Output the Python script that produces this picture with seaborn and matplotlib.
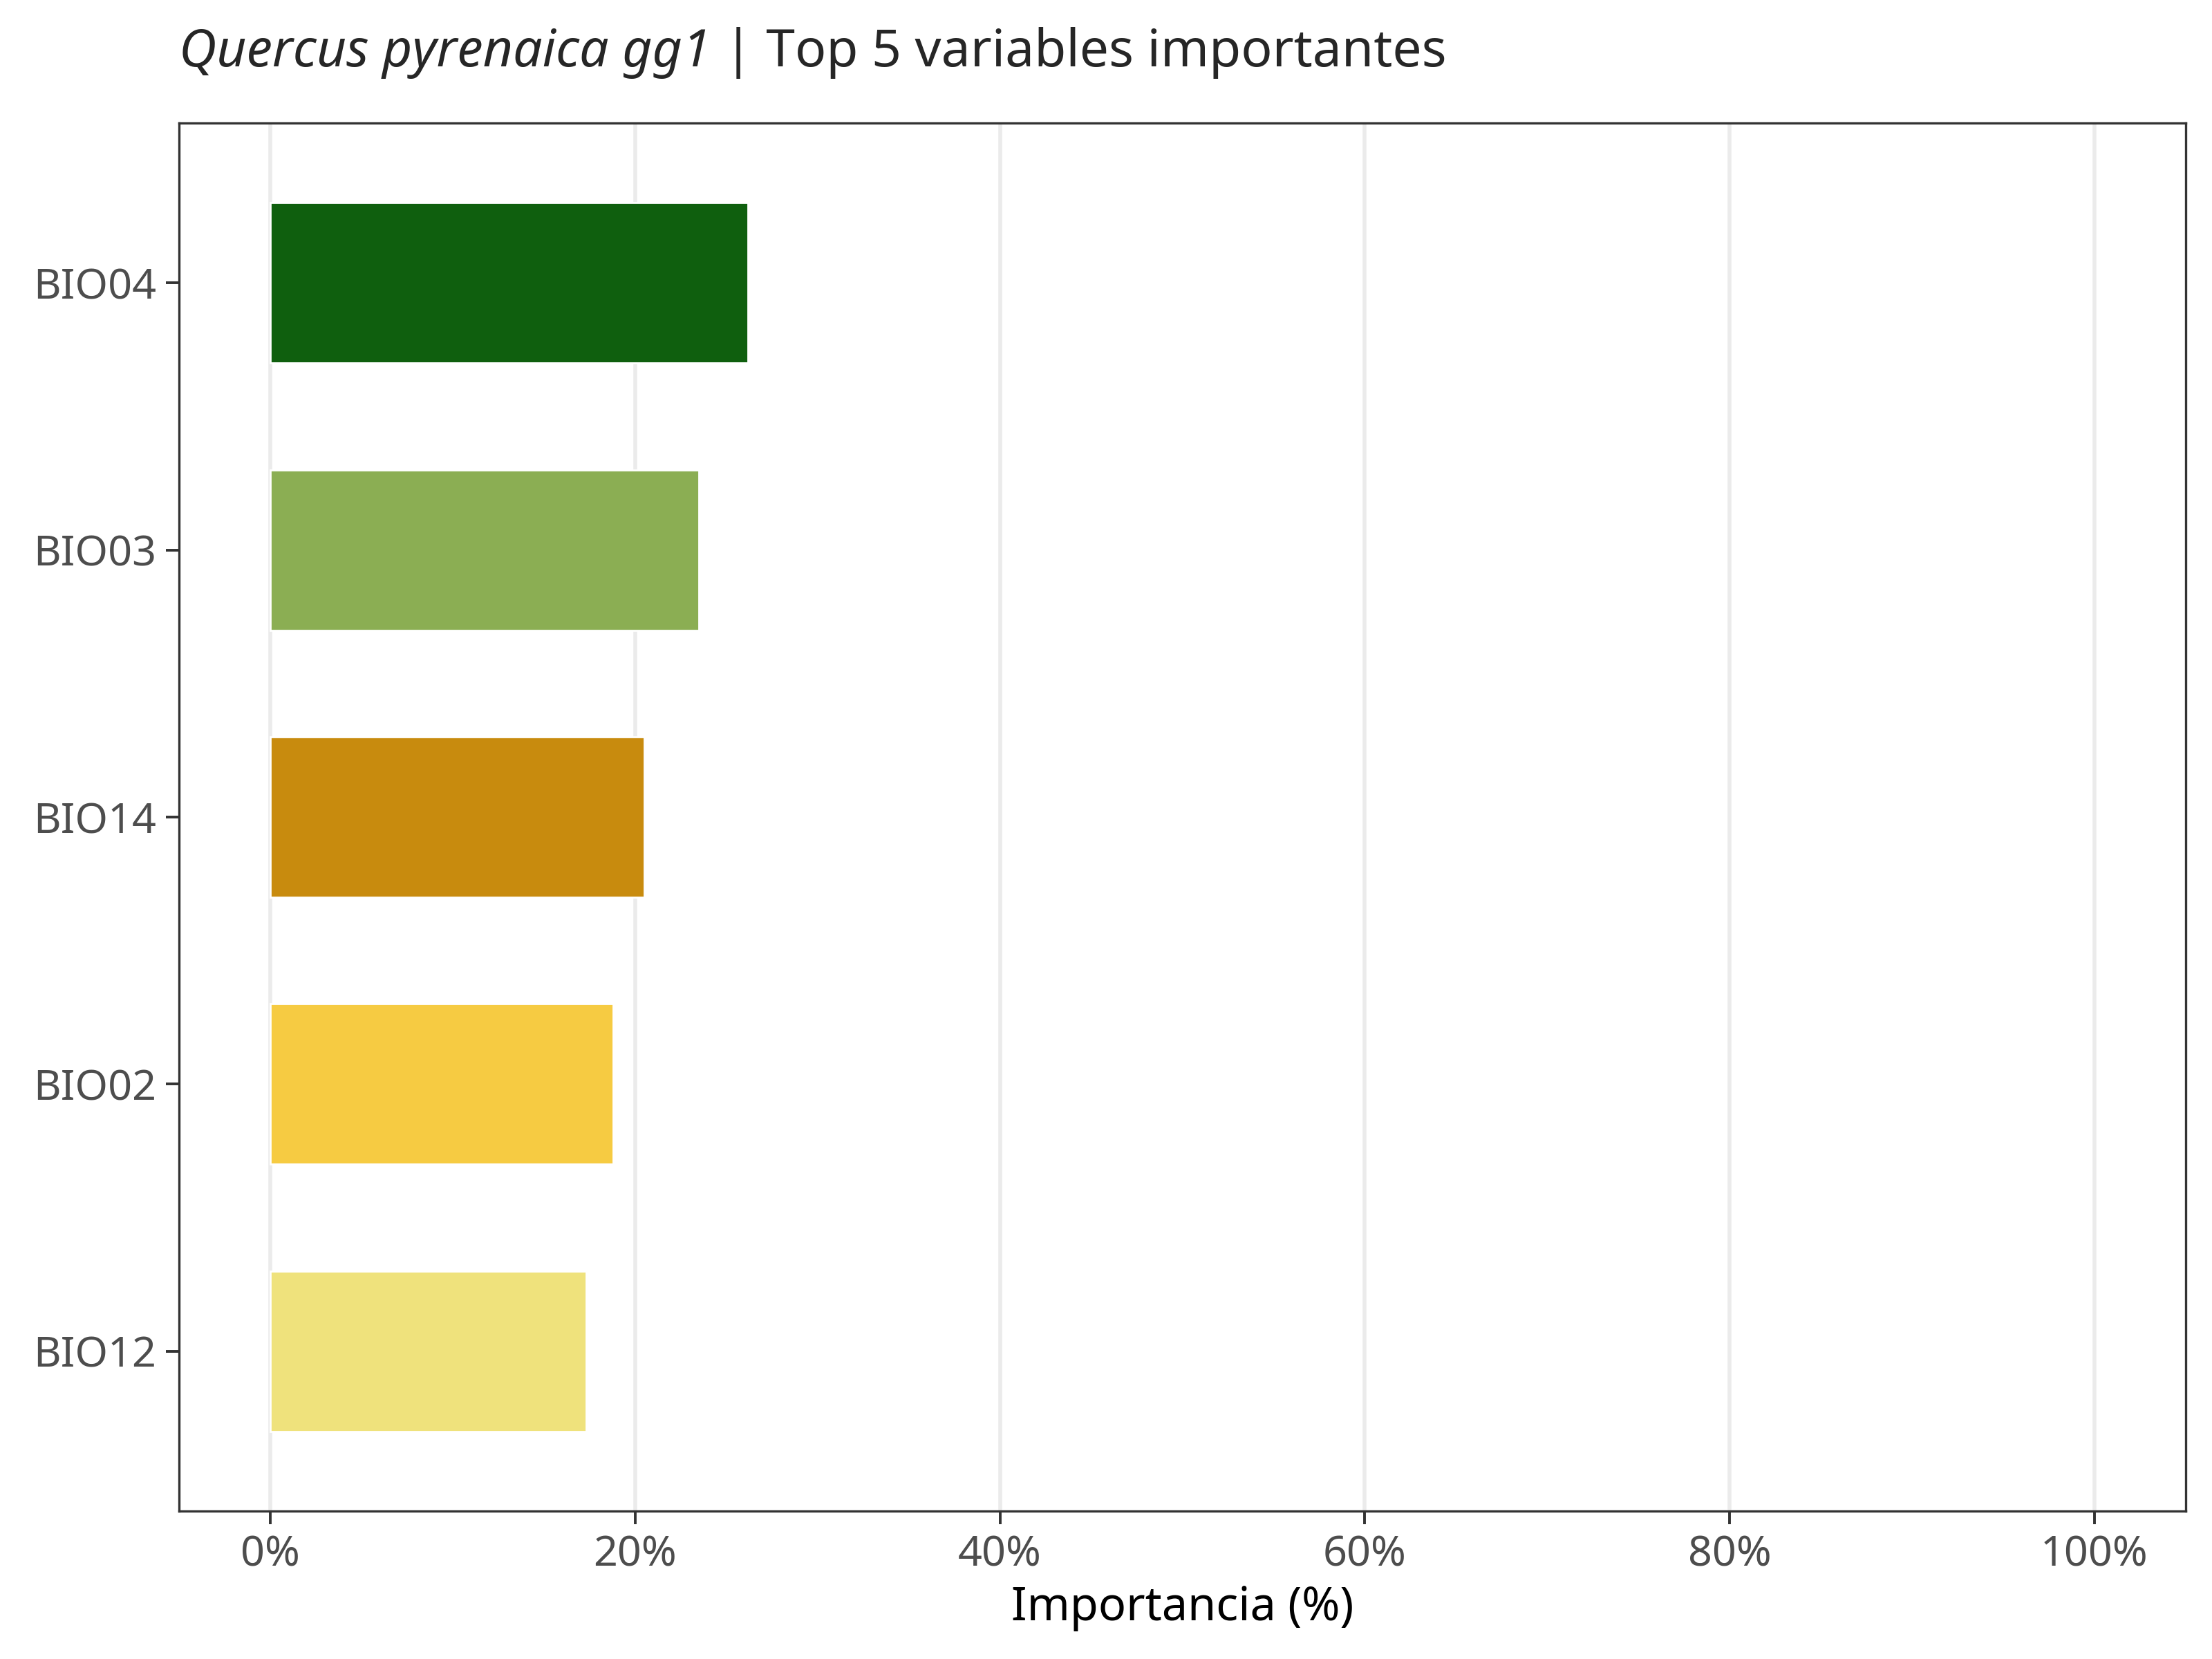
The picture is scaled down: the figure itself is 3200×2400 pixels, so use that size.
import matplotlib
matplotlib.use("Agg")
import matplotlib.pyplot as plt
import seaborn as sns
import pandas as pd
from matplotlib.ticker import FuncFormatter

variables = ["BIO04", "BIO03", "BIO14", "BIO02", "BIO12"]
importance = [26.2, 23.5, 20.5, 18.8, 17.3]
colors = ["#0F5F0E", "#8BAE53", "#C88B0E", "#F6CB42", "#EFE27C"]
species = "Quercus pyrenaica gg1"
subtitle = " | Top 5 variables importantes"

sns.set_theme(style="white")
plt.rcParams["font.family"] = ["Noto Sans", "DejaVu Sans"]

df = pd.DataFrame({"variable": variables, "importance": importance})

fig = plt.figure(figsize=(16, 12), dpi=200)
ax = fig.add_axes([0.081, 0.089, 0.907, 0.837])
sns.barplot(data=df, y="variable", x="importance", hue="variable",
            palette=colors, order=variables, width=0.6, saturation=1,
            legend=False, ax=ax)

ax.set_xlim(-5, 105)
ax.set_ylim(4.6, -0.6)
ax.set_xticks(range(0, 101, 20))
ax.xaxis.set_major_formatter(FuncFormatter(lambda v, p: f"{v:.0f}%"))
ax.grid(axis="x", color="#EBEBEB", linewidth=2)
ax.set_axisbelow(True)
for s in ax.spines.values():
    s.set_color("#333333")
    s.set_linewidth(1.2)
ax.tick_params(axis="both", length=7, width=1.4, color="#333333",
               labelsize=22, labelcolor="#4D4D4D", bottom=True, left=True, pad=5)
ax.set_ylabel("")
ax.set_xlabel("Importancia (%)", fontsize=24, color="black", labelpad=4)

t1 = fig.text(0.081, 0.96, species, fontsize=27, style="italic", va="baseline")
ax.annotate(subtitle, xy=(1, 0), xycoords=t1, fontsize=27, va="bottom")

fig.savefig("out.png", dpi=200, facecolor="white")
